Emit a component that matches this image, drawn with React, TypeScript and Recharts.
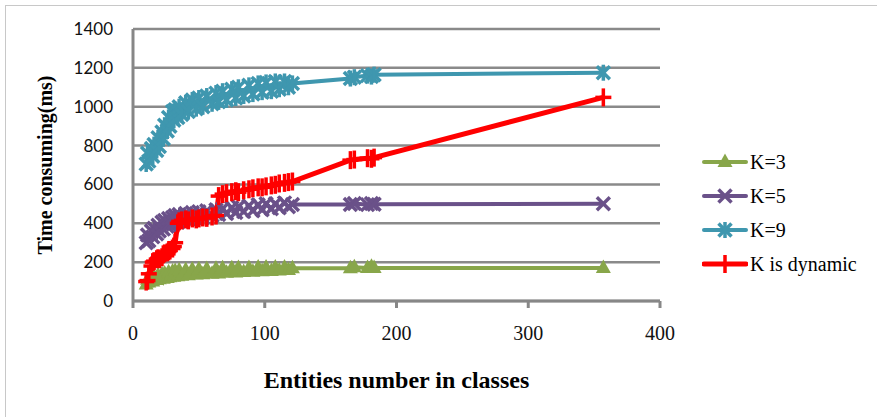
import React from 'react';
import { LineChart, Line, XAxis, YAxis, CartesianGrid, Legend, Label } from 'recharts';

const xValues = [10, 11, 12, 14, 15, 16, 18, 19, 20, 22, 23, 24, 26, 27, 28, 30, 31, 32, 34, 35, 37, 40, 42, 45, 48, 50, 53, 56, 60, 63, 65, 68, 71, 75, 78, 80, 84, 88, 91, 95, 98, 101, 105, 108, 111, 115, 118, 121, 165, 168, 178, 181, 183, 357];

const k3Values = [85, 110, 95, 120, 100, 125, 108, 132, 112, 138, 115, 142, 118, 148, 122, 152, 125, 155, 128, 158, 130, 160, 133, 162, 136, 164, 138, 165, 140, 166, 142, 168, 145, 168, 147, 170, 149, 170, 151, 172, 153, 172, 155, 173, 157, 173, 160, 168, 168, 174, 170, 176, 170, 170];

const k5Values = [300, 340, 310, 360, 330, 375, 345, 390, 360, 405, 370, 415, 385, 425, 395, 430, 400, 440, 405, 445, 410, 450, 420, 455, 425, 460, 430, 465, 440, 470, 445, 475, 450, 480, 455, 485, 460, 490, 465, 495, 470, 500, 475, 500, 480, 505, 485, 497, 497, 502, 496, 502, 498, 500];

const k9Values = [705, 760, 720, 785, 745, 805, 775, 840, 795, 870, 835, 905, 875, 945, 900, 975, 930, 985, 945, 1000, 960, 1020, 975, 1035, 990, 1045, 1000, 1055, 1015, 1070, 1025, 1080, 1035, 1090, 1045, 1100, 1055, 1110, 1065, 1120, 1075, 1125, 1080, 1130, 1090, 1130, 1100, 1120, 1145, 1152, 1160, 1155, 1165, 1175];

const kDynamicValues = [100, 105, 140, 180, 200, 205, 215, 220, 215, 225, 240, 245, 250, 255, 260, 270, 280, 300, 400, 410, 415, 420, 415, 425, 420, 425, 430, 428, 435, 440, 540, 550, 555, 560, 565, 560, 570, 575, 580, 585, 585, 590, 595, 598, 605, 608, 612, 615, 725, 728, 735, 732, 738, 1048];

const xTicks = [0, 100, 200, 300, 400];
const yTicks = [0, 200, 400, 600, 800, 1000, 1200, 1400];

const seriesNames = ['K=3', 'K=5', 'K=9', 'K is dynamic'];
const seriesKeys = ['k3', 'k5', 'k9', 'kd'];
const seriesColors = ['#88A64A', '#6A5189', '#3F97AF', '#FF0000'];
const seriesMarkers = ['tri', 'x', 'star', 'plus'];
const seriesWidths = [4, 4, 4, 5];

const xTitle = 'Entities number in classes';
const yTitle = 'Time consuming(ms)';

const data = xValues.map((x, i) => ({
  x,
  k3: k3Values[i],
  k5: k5Values[i],
  k9: k9Values[i],
  kd: kDynamicValues[i],
}));

const SERIF = "'Liberation Serif', 'Times New Roman', serif";

function Marker({ kind, cx, cy, color }: { kind: string; cx: number; cy: number; color: string }) {
  if (cx == null || cy == null) return null;
  if (kind === 'tri') {
    return <polygon points={`${cx},${cy - 8.5} ${cx - 7.5},${cy + 5} ${cx + 7.5},${cy + 5}`} fill={color} />;
  }
  if (kind === 'x') {
    return (
      <g stroke={color} strokeWidth={3.5}>
        <line x1={cx - 6.5} y1={cy - 6.5} x2={cx + 6.5} y2={cy + 6.5} />
        <line x1={cx - 6.5} y1={cy + 6.5} x2={cx + 6.5} y2={cy - 6.5} />
      </g>
    );
  }
  if (kind === 'star') {
    return (
      <g stroke={color} strokeWidth={3.5}>
        <line x1={cx - 6.5} y1={cy - 6.5} x2={cx + 6.5} y2={cy + 6.5} />
        <line x1={cx - 6.5} y1={cy + 6.5} x2={cx + 6.5} y2={cy - 6.5} />
        <line x1={cx} y1={cy - 8} x2={cx} y2={cy + 8} />
      </g>
    );
  }
  return (
    <g stroke={color} strokeWidth={3.5}>
      <line x1={cx - 8} y1={cy} x2={cx + 8} y2={cy} />
      <line x1={cx} y1={cy - 9} x2={cx} y2={cy + 9} />
    </g>
  );
}

const renderLegend = () => (
  <div style={{ fontFamily: SERIF, fontSize: 20, color: '#000' }}>
    {seriesNames.map((name, i) => (
      <div key={name} style={{ display: 'flex', alignItems: 'center', height: 34 }}>
        <svg width={46} height={22} style={{ display: 'block' }}>
          <line x1={2} y1={11} x2={44} y2={11} stroke={seriesColors[i]} strokeWidth={seriesWidths[i]} strokeLinecap="round" />
          <Marker kind={seriesMarkers[i]} cx={23} cy={11} color={seriesColors[i]} />
        </svg>
        <span style={{ marginLeft: 2, whiteSpace: 'nowrap' }}>{name}</span>
      </div>
    ))}
  </div>
);

export default function App() {
  return (
    <div style={{ position: 'fixed', left: 0, top: 0, width: 877, height: 417, overflow: 'hidden', background: '#fff' }}>
      <div style={{ position: 'absolute', left: 5, top: 5, width: 900, height: 440, border: '1.5px solid #c8c8c8', boxSizing: 'border-box' }} />
      <div style={{ position: 'absolute', left: 0, top: 0 }}>
        <LineChart width={877} height={417} data={data} margin={{ top: 29, right: 217, bottom: 76, left: 73 }}>
          <CartesianGrid vertical={false} stroke="#8a8a8a" strokeWidth={2.5} />
          <XAxis
            dataKey="x"
            type="number"
            domain={[0, 400]}
            ticks={xTicks}
            height={40}
            axisLine={{ stroke: '#878787', strokeWidth: 3 }}
            tickLine={{ stroke: '#878787', strokeWidth: 3 }}
            tickSize={7}
            tickMargin={18}
            tick={{ fontFamily: SERIF, fontSize: 20, fill: '#111' }}
          >
            <Label
              content={(props: any) => {
                const vb = props.viewBox || { x: 133, y: 301, width: 527, height: 40 };
                return (
                  <text x={vb.x + vb.width / 2} y={vb.y + 87} textAnchor="middle" fontFamily={SERIF} fontSize={24} fontWeight="bold" fill="#000">
                    {xTitle}
                  </text>
                );
              }}
            />
          </XAxis>
          <YAxis
            type="number"
            domain={[0, 1400]}
            ticks={yTicks}
            width={60}
            axisLine={{ stroke: '#878787', strokeWidth: 3 }}
            tickLine={false}
            tickSize={0}
            tickMargin={20}
            tick={{ fontFamily: 'Lato, sans-serif', fontSize: 17, fill: '#111' }}
          >
            <Label
              content={(props: any) => {
                const vb = props.viewBox || { x: 73, y: 29, width: 60, height: 272 };
                const lx = vb.x - 21;
                const ly = vb.y + vb.height / 2;
                return (
                  <text x={lx} y={ly} transform={`rotate(-90, ${lx}, ${ly})`} textAnchor="middle" fontFamily={SERIF} fontSize={20} fontWeight="bold" fill="#000">
                    {yTitle}
                  </text>
                );
              }}
            />
          </YAxis>
          <Legend
            layout="horizontal"
            verticalAlign="middle"
            align="center"
            content={renderLegend}
            wrapperStyle={{ left: 702, top: 145, width: 175 }}
          />
          {seriesKeys.map((key, i) => (
            <Line
              key={key}
              dataKey={key}
              name={seriesNames[i]}
              type="linear"
              stroke={seriesColors[i]}
              strokeWidth={seriesWidths[i]}
              isAnimationActive={false}
              dot={(p: any) => <Marker key={`${key}-${p.index}`} kind={seriesMarkers[i]} cx={p.cx} cy={p.cy} color={seriesColors[i]} />}
              activeDot={false}
            />
          ))}
        </LineChart>
      </div>
    </div>
  );
}
